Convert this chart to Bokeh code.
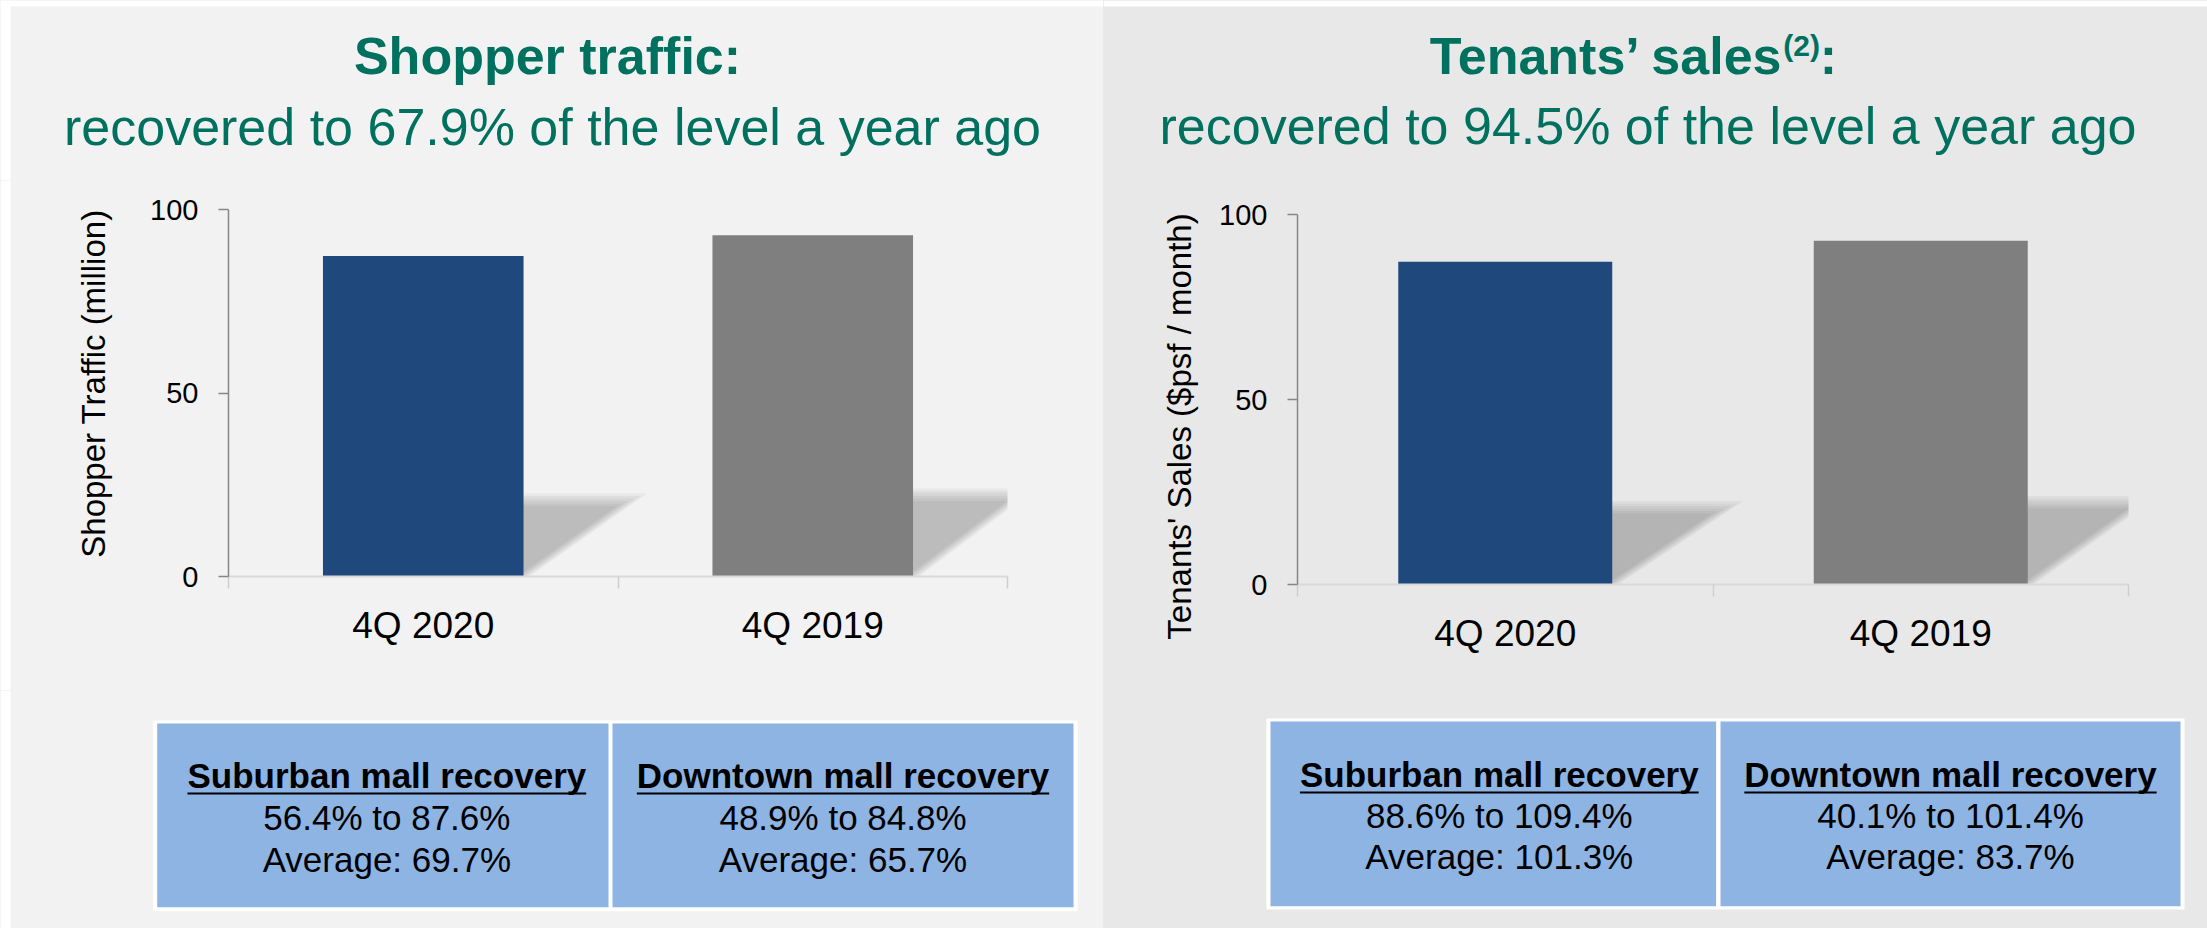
import numpy as np
from bokeh.plotting import figure
from bokeh.layouts import row, column
from bokeh.models import Range1d, FixedTicker, Plot
from bokeh.core.properties import value
from bokeh.embed import file_html
from bokeh.resources import INLINE

# ---------------- data ----------------
categories = ["4Q 2020", "4Q 2019"]
traffic_values = [87.3, 93.0]
sales_values = [87.2, 92.9]
bar_colors = ["#1F497D", "#7F7F7F"]
y_ticks = [0, 50, 100]

traffic_title = "Shopper traffic:"
traffic_subtitle = "recovered to 67.9% of the level a year ago"
traffic_ylabel = "Shopper Traffic (million)"

sales_title = "Tenants\u2019 sales"
sales_title_sup = "(2)"
sales_title_end = ":"
sales_subtitle = "recovered to 94.5% of the level a year ago"
sales_ylabel = "Tenants' Sales ($psf / month)"

table_headers = ["Suburban mall recovery", "Downtown mall recovery"]
traffic_ranges = ["56.4% to 87.6%", "48.9% to 84.8%"]
traffic_averages = ["Average: 69.7%", "Average: 65.7%"]
sales_ranges = ["88.6% to 109.4%", "40.1% to 101.4%"]
sales_averages = ["Average: 101.3%", "Average: 83.7%"]

# ---------------- style ----------------
FONT = "Liberation Sans"
GREEN = "#00705F"
TABLE_BLUE = "#8EB4E3"
TITLE_H, CHART_H, TABLE_H = 180, 510, 238
BASE_SHIFT = 0.35   # glyph text baseline correction (fraction of font size)
FA = {"frame_align": False} if "frame_align" in Plot.properties() else {}

ARIAL_BOLD = {' ': 278, '(': 333, ')': 333, ':': 333, '\u2019': 278, '2': 556,
              'S': 667, 'T': 611, 'D': 722, 'a': 556, 'b': 611, 'c': 556, 'e': 556,
              'f': 333, 'h': 611, 'i': 278, 'l': 278, 'm': 889, 'n': 611, 'o': 611,
              'p': 611, 'r': 389, 's': 556, 't': 333, 'u': 611, 'v': 556, 'w': 778,
              'y': 556}


def bold_width(s, size):
    return sum(ARIAL_BOLD.get(ch, 556) for ch in s) / 1000.0 * size


def bl(y, size):
    return y - BASE_SHIFT * size


def base_fig(w, h, bg, flip=True):
    p = figure(width=w, height=h, x_range=Range1d(0, w),
               y_range=Range1d(h, 0) if flip else Range1d(0, h),
               tools="", toolbar_location=None, output_backend="svg",
               x_axis_location=None, y_axis_location=None,
               min_border=0, background_fill_color=bg, border_fill_color=bg,
               outline_line_color=None, **FA)
    p.grid.visible = False
    return p


def white_strips(p, w, h, top=0, left=0):
    if top:
        p.quad(left=[0], right=[w], top=[0], bottom=[top], fill_color="white", line_color=None)
    if left:
        p.quad(left=[0], right=[left], top=[0], bottom=[h], fill_color="white", line_color=None)


def title_fig(w, bg, pieces, cx, subtitle, sub_cx, sub_y, left_strip):
    p = base_fig(w, TITLE_H, bg)
    white_strips(p, w, TITLE_H, top=6, left=left_strip)
    total = sum(bold_width(t, s) + dx for t, s, _, dx in pieces)
    x = cx - total / 2.0
    for t, s, y, dx in pieces:
        x += dx
        p.text(x=[x], y=[bl(y, s)], text=[t], text_font=value(FONT), text_font_style="bold",
               text_font_size=f"{s}px", text_color=GREEN, text_align="left",
               text_baseline="alphabetic")
        x += bold_width(t, s)
    p.text(x=[sub_cx], y=[bl(sub_y, 52)], text=[subtitle], text_font=value(FONT),
           text_font_size="52px", text_color=GREEN, text_align="center",
           text_baseline="alphabetic")
    return p


def ylabel_fig(w, bg, label, cx, cy, left_strip):
    p = base_fig(w, CHART_H, bg, flip=False)
    if left_strip:
        p.quad(left=[0], right=[left_strip], top=[CHART_H], bottom=[0],
               fill_color="white", line_color=None)
    p.text(x=[cx], y=[CHART_H - cy], text=[label], angle=np.pi / 2,
           text_font=value(FONT), text_font_size="33px", text_color="#000000",
           text_align="center", text_baseline="middle")
    return p


def chart_fig(w, bg, borders, vals):
    b_l, b_r, b_t, b_b = borders
    n = len(categories)
    p = figure(width=w, height=CHART_H, x_range=Range1d(0, n),
               y_range=Range1d(y_ticks[0], y_ticks[-1]),
               tools="", toolbar_location=None, output_backend="svg",
               min_border_left=b_l, min_border_right=b_r, min_border_top=b_t,
               min_border_bottom=b_b, background_fill_color=bg, border_fill_color=bg,
               outline_line_color=None, **FA)
    p.grid.visible = False
    fw = w - b_l - b_r
    fh = CHART_H - b_t - b_b
    ux = n / fw
    uy = (y_ticks[-1] - y_ticks[0]) / fh
    xs_c = np.arange(n) + 0.5
    bw = 0.515
    # soft perspective shadows (stacked translucent layers fake the blur)
    for e in [-6, -3.5, -1, 1.5, 4, 6.5]:
        pxs, pys = [], []
        for xc, v in zip(xs_c, vals):
            xr = xc + bw / 2
            hs = 0.24 * v
            d = 0.28
            top = hs - e * uy
            xd = xr - e * ux + d * top / hs
            pxs.append([xc, xc, xd, xr - e * ux])
            pys.append([0, top, top, 0])
        p.patches(xs=pxs, ys=pys, fill_color="black", fill_alpha=0.04, line_color=None)
    p.vbar(x=xs_c, top=vals, width=bw, color=bar_colors, line_color=None)

    xa = p.xaxis[0]
    xa.ticker = FixedTicker(ticks=[float(v) for v in xs_c],
                            minor_ticks=[float(v) for v in range(n + 1)])
    xa.major_label_overrides = {float(v): c for v, c in zip(xs_c, categories)}
    xa.axis_line_color = "#D9D9D9"
    xa.axis_line_width = 2
    xa.major_tick_line_color = None
    xa.major_tick_out = 0
    xa.major_tick_in = 0
    xa.minor_tick_line_color = "#CFCFCF"
    xa.minor_tick_line_width = 1.5
    xa.minor_tick_out = 12
    xa.minor_tick_in = 0
    xa.major_label_standoff = 16
    xa.major_label_text_font = FONT
    xa.major_label_text_font_size = "37px"
    xa.major_label_text_color = "#000000"

    ya = p.yaxis[0]
    ya.ticker = FixedTicker(ticks=y_ticks)
    ya.axis_line_color = "#868686"
    ya.axis_line_width = 1.5
    ya.major_tick_line_color = "#868686"
    ya.major_tick_line_width = 1.5
    ya.major_tick_out = 10
    ya.major_tick_in = 0
    ya.minor_tick_line_color = None
    ya.major_label_standoff = 20
    ya.major_label_text_font = FONT
    ya.major_label_text_font_size = "29px"
    ya.major_label_text_color = "#000000"
    return p


def table_fig(w, bg, g, headers, ranges, avgs, left_strip):
    p = base_fig(w, TABLE_H, bg)
    white_strips(p, w, TABLE_H, left=left_strip)
    ox0, ox1, oy0, oy1 = g["outer"]
    p.quad(left=[ox0], right=[ox1], top=[oy0], bottom=[oy1], fill_color="white", line_color=None)
    cy0, cy1 = g["cell_y"]
    cells = g["cells"]
    p.quad(left=[c[0] for c in cells], right=[c[1] for c in cells],
           top=[cy0] * len(cells), bottom=[cy1] * len(cells),
           fill_color=TABLE_BLUE, line_color=None)
    centers = [(c[0] + c[1]) / 2.0 + o for c, o in zip(cells, g["offsets"])]
    b1, b2, b3 = g["baselines"]
    k = len(cells)
    p.text(x=centers, y=[bl(b1, 35)] * k, text=headers, text_font=value(FONT),
           text_font_style="bold", text_font_size="35px", text_color="#000000",
           text_align="center", text_baseline="alphabetic")
    p.text(x=centers, y=[bl(b2, 35)] * k, text=ranges, text_font=value(FONT),
           text_font_size="35px", text_color="#000000", text_align="center",
           text_baseline="alphabetic")
    p.text(x=centers, y=[bl(b3, 35)] * k, text=avgs, text_font=value(FONT),
           text_font_size="35px", text_color="#000000", text_align="center",
           text_baseline="alphabetic")
    widths = [bold_width(h, 35) for h in headers]
    p.segment(x0=[c - wd / 2 for c, wd in zip(centers, widths)],
              x1=[c + wd / 2 for c, wd in zip(centers, widths)],
              y0=[b1 + 6] * k, y1=[b1 + 6] * k, line_color="#000000", line_width=2)
    return p


# ---------------- left panel: shopper traffic ----------------
LBG = "#F2F2F2"
left = column(
    title_fig(1103, LBG, [(traffic_title, 52, 74, 0)], 547, traffic_subtitle, 552, 145, 10),
    row(ylabel_fig(130, LBG, traffic_ylabel, 92.5, 203, 10),
        chart_fig(973, LBG, (98, 96, 29, 114), traffic_values),
        styles={"background-color": LBG}),
    table_fig(1103, LBG, dict(outer=(152.7, 1077, 30, 220.7),
                              cells=[(156.7, 608), (612, 1073)],
                              cell_y=(33, 216.7), offsets=[4, 0],
                              baselines=(97, 139, 181)),
              table_headers, traffic_ranges, traffic_averages, 10),
    styles={"background-color": LBG},
)

# ---------------- right panel: tenants' sales ----------------
RBG = "#E8E8E8"
right = column(
    title_fig(1104, RBG, [(sales_title, 52, 74, 0), (sales_title_sup, 30, 55, -5),
                          (sales_title_end, 52, 74, 0)], 530, sales_subtitle, 544.5, 144, 0),
    row(ylabel_fig(102, RBG, sales_ylabel, 76, 246, 0),
        chart_fig(1002, RBG, (92, 79, 34, 106), sales_values),
        styles={"background-color": RBG}),
    table_fig(1104, RBG, dict(outer=(163, 1081, 28, 219),
                              cells=[(167, 612.6), (617, 1077)],
                              cell_y=(31, 215.7), offsets=[6, 0],
                              baselines=(96, 137, 178)),
              table_headers, sales_ranges, sales_averages, 0),
    styles={"background-color": RBG},
)

layout = row(left, right)
open("out.html", "w").write(file_html(layout, INLINE))
